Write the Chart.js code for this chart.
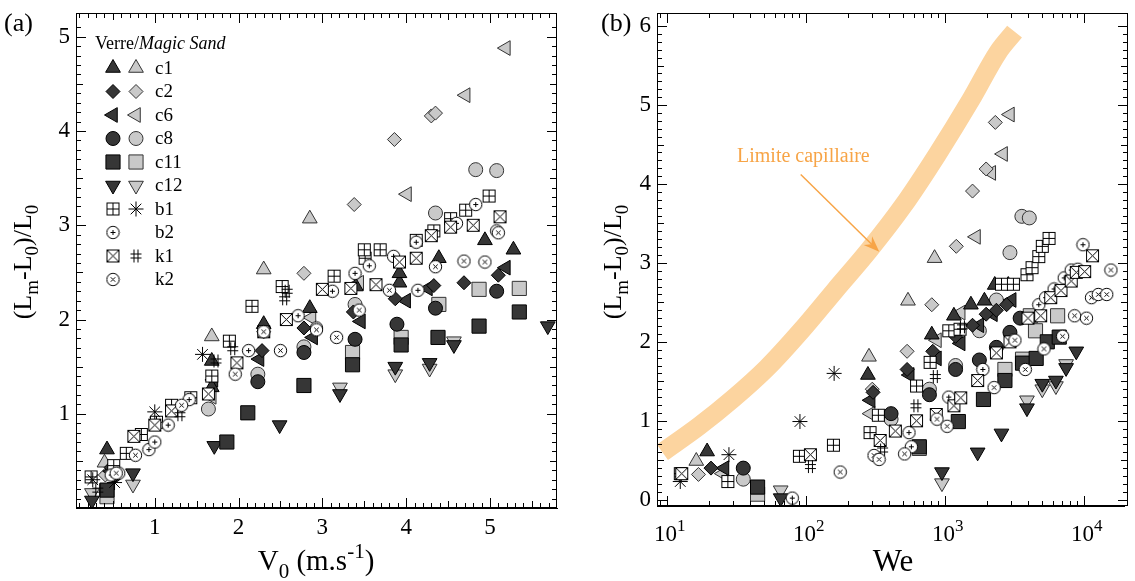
<!DOCTYPE html>
<html><head><meta charset="utf-8">
<script src="https://cdn.jsdelivr.net/npm/chart.js@4/dist/chart.umd.min.js"></script>
<style>
html,body{margin:0;padding:0;background:#fff;}
#wrap{position:relative;width:1135px;height:581px;overflow:hidden;}
#ca{position:absolute;left:0;top:0;}
#cb{position:absolute;left:590px;top:0;}
</style></head><body>
<div id="wrap"><canvas id="ca" width="590" height="581"></canvas><canvas id="cb" width="545" height="581"></canvas></div>
<script>
// ================= DATA: panel (a)  V0 (m/s) vs (Lm-L0)/L0 =================
const A_C1_V  = [[0.43,0.62],[1.68,1.56],[1.68,1.28],[2.30,1.95],[2.85,2.12],[3.40,2.35],[3.92,2.39],[3.92,2.49],[4.39,2.65],[4.94,2.84],[5.28,2.74]];
const A_C1_M  = [[0.40,0.48],[1.68,1.82],[2.30,2.53],[2.85,3.07]];
const A_C2_V  = [[0.48,0.43],[2.28,1.67],[2.78,1.91],[3.37,2.08],[3.87,2.22],[4.33,2.36],[4.69,2.39],[5.10,2.47]];
const A_C2_M  = [[0.41,0.35],[2.30,1.87],[2.78,2.49],[3.38,3.22],[3.86,3.91],[4.30,4.16],[4.35,4.19]];
const A_C6_V  = [[0.48,0.39],[1.70,1.36],[2.25,1.58],[2.89,1.81],[3.46,1.98],[4.00,2.20],[4.26,2.33],[5.19,2.55]];
const A_C6_M  = [[0.45,0.37],[1.68,1.18],[2.87,2.02],[3.44,2.39],[4.01,3.33],[4.71,4.38],[5.19,4.88]];
const A_C8_V  = [[0.52,0.35],[2.23,1.34],[2.78,1.65],[3.39,1.79],[3.89,1.95],[4.35,2.12],[5.08,2.30]];
const A_C8_M  = [[0.52,0.37],[1.64,1.05],[2.23,1.42],[2.78,1.71],[3.39,2.16],[4.35,3.13],[4.83,3.59],[5.08,3.58]];
const A_C11_V = [[0.43,0.19],[1.86,0.70],[2.11,1.01],[2.78,1.30],[3.36,1.52],[3.94,1.73],[4.38,1.81],[4.87,1.93],[5.35,2.08]];
const A_C11_M = [[0.43,0.12],[3.36,1.65],[3.94,1.81],[4.39,2.16],[4.87,2.32],[5.35,2.33]];
const A_C12_V = [[0.25,0.08],[0.74,0.37],[1.71,0.66],[2.49,0.88],[3.21,1.21],[3.87,1.50],[4.28,1.54],[4.57,1.73],[5.69,1.93]];
const A_C12_M = [[0.25,0.16],[0.74,0.25],[3.21,1.28],[3.87,1.42],[4.28,1.48],[4.57,1.77]];
const A_B1_V  = [[0.24,0.33],[0.51,0.45],[0.66,0.58],[0.84,0.78],[1.02,0.91],[1.20,1.09],[1.43,1.17],[1.68,1.40],[1.89,1.77],[2.16,2.14],[2.52,2.35],[3.14,2.46],[3.51,2.65],[3.50,2.74],[3.69,2.74],[4.12,2.84],[4.33,2.94],[4.53,3.07],[4.71,3.16],[4.99,3.31]];
const A_B1_M  = [[0.26,0.30],[0.52,0.27],[1.00,1.02],[1.57,1.63]];
const A_B2_V  = [[0.48,0.35],[0.57,0.37],[0.93,0.62],[1.00,0.70],[1.16,0.88],[1.41,1.15],[2.12,1.67],[2.71,2.04],[2.93,1.91],[3.12,2.30],[3.39,2.49],[3.56,2.57],[3.85,2.67],[4.12,2.82],[4.14,2.31],[4.60,3.02],[4.83,3.22],[5.08,2.94]];
const A_K1_V  = [[0.75,0.76],[1.00,0.88],[1.20,1.03],[1.64,1.21],[1.98,1.54],[2.30,1.87],[2.57,2.00],[3.00,2.32],[3.34,2.33],[3.64,2.37],[3.92,2.61],[4.12,2.65],[4.30,2.89],[4.53,2.98],[4.80,3.00],[5.12,3.09]];
const A_K1_M  = [[0.32,0.19],[1.30,0.99],[1.73,1.56],[1.93,1.69],[2.55,2.22],[2.58,2.30]];
const A_K2_V  = [[0.54,0.37],[0.77,0.56],[1.32,1.09],[1.96,1.42],[2.30,1.87],[2.50,1.67],[2.93,1.89],[3.17,1.81],[3.44,2.10],[3.80,2.31],[4.35,2.56],[4.69,2.62],[4.94,2.61],[5.10,2.92]];

// ================= DATA: panel (b)  We vs (Lm-L0)/L0 =================
const B_C1_V  = [[19.5,0.61],[280,1.58],[807,2.09],[1164,2.33],[1543,2.47],[1930,2.52],[2290,2.72],[2865,2.72]];
const B_C1_M  = [[16.3,0.49],[285,1.81],[544,2.52],[845,3.06]];
const B_C2_V  = [[20.8,0.40],[305,1.36],[536,1.65],[820,1.88],[1197,2.07],[1585,2.21],[1986,2.35],[2354,2.40],[2787,2.47]];
const B_C2_M  = [[16.9,0.32],[301,1.40],[536,1.88],[807,2.47],[1211,3.21],[1585,3.91],[1986,4.19],[2312,4.78]];
const B_C6_V  = [[26,0.40],[293,1.26],[560,1.58],[879,1.79],[1303,1.98],[1775,2.21],[2222,2.35],[3033,2.53]];
const B_C6_M  = [[25.3,0.33],[293,1.09],[879,2.02],[1303,2.37],[1679,3.33],[2163,4.14],[2630,4.38],[2946,4.88]];
const B_C8_V  = [[35.5,0.40],[411,1.09],[776,1.33],[1197,1.65],[1775,1.77],[2354,1.93],[2946,2.12],[3489,2.30]];
const B_C8_M  = [[35.5,0.26],[411,1.02],[776,1.40],[1197,1.70],[1775,2.14],[2354,2.53],[2946,3.13],[3590,3.59],[4060,3.57]];
const B_C11_V = [[45,0.16],[656,0.67],[1253,0.99],[1900,1.27],[2711,1.51],[3630,1.73],[4550,1.79],[5470,2.00],[6670,2.06]];
const B_C11_M = [[45,0.07],[656,0.65],[2711,1.65],[3630,1.78],[4130,2.33],[4500,2.14],[6490,2.33]];
const B_C12_V = [[66,0.02],[955,0.35],[1725,0.60],[2560,0.84],[3906,1.16],[5035,1.47],[6310,1.51],[7470,1.67],[8840,1.88]];
const B_C12_M = [[66,0.12],[955,0.21],[3906,1.26],[5035,1.40],[6310,1.44],[7470,1.72]];
const B_B1_V  = [[12.5,0.33],[27.5,0.23],[90,0.55],[158,0.69],[290,0.85],[333,1.07],[627,1.44],[785,1.74],[1069,2.14],[1288,2.16],[2560,2.73],[3120,2.73],[3906,2.85],[4250,2.94],[4750,3.08],[5035,3.21],[5630,3.31]];
const B_B1_M  = [[12.5,0.23],[28,0.57],[90.8,0.99],[160,1.60]];
const B_B2_V  = [[80,0.02],[553,0.85],[575,0.67],[1069,1.30],[1880,1.65],[3120,2.02],[4750,2.47],[5320,2.56],[6125,2.67],[7240,2.81],[8130,2.91],[9080,2.92],[9880,3.23]];
const B_K1_V  = [[12.8,0.33],[108,0.57],[343,0.75],[441,0.87],[627,1.00],[869,1.08],[1164,1.19],[1303,1.29],[1725,1.51],[2354,1.86],[2946,2.00],[3970,2.30],[4900,2.33],[5790,2.56],[6860,2.65],[8130,2.77],[8840,2.88],[10160,2.89],[11580,3.09]];
const B_K1_M  = [[108,0.42],[357,0.63],[620,1.19],[855,1.56],[1340,2.19]];
const B_K2_V  = [[177,0.35],[310,0.56],[337,0.51],[514,0.58],[879,1.02],[1040,0.93],[2265,1.42],[3200,2.02],[3800,1.65],[5180,1.91],[7050,2.07],[8600,2.33],[10470,2.30],[11380,2.56],[12730,2.60],[14650,2.60],[15700,2.91]];

// capillary limit band (We, (Lm-L0)/L0)
const CAP_WE = [9.3,17,30,52.6,92.5,162,285,500,880,1545,2420,3180];
const CAP_Y  = [0.60,0.93,1.28,1.67,2.14,2.65,3.16,3.72,4.37,5.07,5.67,5.93];

// tick labels
const A_XTICKS = [1,2,3,4,5];
const A_YTICKS = [1,2,3,4,5];
const B_YTICKS = [0,1,2,3,4,5,6];
const B_XDECADES = [1,2,3,4];

const LEGEND_ROWS = ['c1','c2','c6','c8','c11','c12','b1','b2','k1','k2'];

// ================= STYLES =================
const FONT = "'Liberation Serif','Times New Roman',serif";
Chart.defaults.font.family = FONT;
const DARK = '#363636', LIGHT = '#c9c9c9';
function makeMarker(size, draw){ const c=document.createElement('canvas'); c.width=size; c.height=size; const g=c.getContext('2d'); g.lineWidth=1; g.strokeStyle='#000'; g.fillStyle='#fff'; draw(g,size); return c; }
const M_BOXPLUS = makeMarker(15,g=>{ g.fillRect(1.5,1.5,12,12); g.strokeRect(1.5,1.5,12,12); g.beginPath(); g.moveTo(7.5,1.5); g.lineTo(7.5,13.5); g.moveTo(1.5,7.5); g.lineTo(13.5,7.5); g.stroke(); });
const M_CIRCPLUS = makeMarker(15,g=>{ g.beginPath(); g.arc(7.5,7.5,6.2,0,2*Math.PI); g.fill(); g.stroke(); g.beginPath(); g.moveTo(7.5,5); g.lineTo(7.5,10); g.moveTo(5,7.5); g.lineTo(10,7.5); g.stroke(); });
const M_BOXX = makeMarker(15,g=>{ g.fillRect(1.5,1.5,12,12); g.strokeRect(1.5,1.5,12,12); g.beginPath(); g.moveTo(1.5,1.5); g.lineTo(13.5,13.5); g.moveTo(13.5,1.5); g.lineTo(1.5,13.5); g.stroke(); });
const M_CIRCX = makeMarker(15,g=>{ g.beginPath(); g.arc(7.5,7.5,6.2,0,2*Math.PI); g.fill(); g.stroke(); g.beginPath(); g.moveTo(5.3,5.3); g.lineTo(9.7,9.7); g.moveTo(9.7,5.3); g.lineTo(5.3,9.7); g.stroke(); });
const M_HASH = makeMarker(15,g=>{ g.beginPath(); g.moveTo(5.5,1); g.lineTo(5.5,14); g.moveTo(9.5,1); g.lineTo(9.5,14); g.moveTo(2,5.5); g.lineTo(13,5.5); g.moveTo(2,9.5); g.lineTo(13,9.5); g.stroke(); });

const STY = {
  c1V:{ps:'triangle',r:8.5,rot:0,bg:DARK,bc:'#000'},   c1M:{ps:'triangle',r:8.5,rot:0,bg:LIGHT,bc:'#333'},
  c2V:{ps:'rectRot',r:7,rot:0,bg:DARK,bc:'#000'},      c2M:{ps:'rectRot',r:7,rot:0,bg:LIGHT,bc:'#333'},
  c6V:{ps:'triangle',r:8.5,rot:-90,bg:DARK,bc:'#000'}, c6M:{ps:'triangle',r:8.5,rot:-90,bg:LIGHT,bc:'#333'},
  c8V:{ps:'circle',r:7,rot:0,bg:DARK,bc:'#000'},       c8M:{ps:'circle',r:7,rot:0,bg:LIGHT,bc:'#333'},
  c11V:{ps:'rect',r:10,rot:0,bg:DARK,bc:'#000'},       c11M:{ps:'rect',r:10,rot:0,bg:LIGHT,bc:'#333'},
  c12V:{ps:'triangle',r:8.5,rot:180,bg:DARK,bc:'#000'},c12M:{ps:'triangle',r:8.5,rot:180,bg:LIGHT,bc:'#333'},
  b1V:{ps:M_BOXPLUS,r:7,rot:0,bg:'#fff',bc:'#000'},    b1M:{ps:'star',r:7.5,rot:0,bg:'#000',bc:'#000'},
  b2V:{ps:M_CIRCPLUS,r:7,rot:0,bg:'#fff',bc:'#000'},
  k1V:{ps:M_BOXX,r:7,rot:0,bg:'#fff',bc:'#000'},       k1M:{ps:M_HASH,r:7,rot:0,bg:'#000',bc:'#000'},
  k2V:{ps:M_CIRCX,r:7,rot:0,bg:'#fff',bc:'#000'}
};
function ds(arr,key){ const s=STY[key]; return {label:key, data:arr.map(p=>({x:p[0],y:p[1]})), showLine:false,
  pointStyle:s.ps, pointRadius:s.r, pointRotation:s.rot, pointBackgroundColor:s.bg, pointBorderColor:s.bc, pointBorderWidth:1}; }

// ================= helpers =================
function linTicks(min,max,step){ const out=[]; for(let i=Math.ceil(min/step-1e-9); i*step<=max+1e-9; i++) out.push(+(i*step).toFixed(6)); return out; }
function linLen(v){ if(Math.abs(v-Math.round(v))<1e-6) return 10; if(Math.abs(v*2-Math.round(v*2))<1e-6) return 7; return 5; }
function logTicks(min,max){ const out=[]; for(let d=0; d<=5; d++) for(let m=1;m<=9;m++){ const v=m*Math.pow(10,d); if(v>=min&&v<=max) out.push(v);} return out; }
function logLen(v){ const l=Math.log10(v); return Math.abs(l-Math.round(l))<1e-6?10:5; }
function segFont(s,base){ const sz = s.k ? Math.round(base*0.72) : base; return (s.i?'italic ':'')+sz+'px '+FONT; }
function drawRich(ctx, segs, x, y, base, rot, color){
  ctx.save(); ctx.translate(x,y); if(rot) ctx.rotate(rot);
  let w=0; segs.forEach(s=>{ ctx.font=segFont(s,base); w+=ctx.measureText(s.t).width; });
  let cx=-w/2; ctx.textBaseline='alphabetic'; ctx.textAlign='left'; ctx.fillStyle=color||'#000';
  segs.forEach(s=>{ ctx.font=segFont(s,base); const dy = s.k==='sub'? base*0.28 : (s.k==='sup'? -base*0.42 : 0);
    ctx.fillText(s.t, cx, dy); cx+=ctx.measureText(s.t).width; });
  ctx.restore();
}
function marker(ctx, key, x, y){
  const s=STY[key]; ctx.save(); ctx.fillStyle=s.bg; ctx.strokeStyle=s.bc; ctx.lineWidth=1;
  Chart.helpers.drawPoint(ctx, {pointStyle:s.ps, radius:s.r, rotation:s.rot, borderWidth:1}, x, y);
  ctx.restore();
}
const YTITLE = [{t:'(L'},{t:'m',k:'sub'},{t:'-L'},{t:'0',k:'sub'},{t:')/L'},{t:'0',k:'sub'}];
const scaleCommon = (extra)=>Object.assign({grid:{display:false,drawTicks:false}, border:{display:true,color:'#000',width:1},
  ticks:{color:'#000', font:{family:FONT,size:23}, maxRotation:0, autoSkip:false, padding:6}}, extra);

// ================= CHART (a) =================
const A_AREA = {left:76, top:13, right:557, bottom:508};
const A_XMIN = linTicks(0.1,5.8,0.1), A_YMIN = linTicks(0.1,5.1,0.1);
const chartA = new Chart(document.getElementById('ca'), {
  type:'scatter',
  data:{datasets:[
    ds(A_K2_V,'k2V'), ds(A_K1_M,'k1M'), ds(A_K1_V,'k1V'), ds(A_B2_V,'b2V'), ds(A_B1_M,'b1M'), ds(A_B1_V,'b1V'),
    ds(A_C1_V,'c1V'), ds(A_C2_V,'c2V'), ds(A_C6_V,'c6V'), ds(A_C8_V,'c8V'), ds(A_C11_V,'c11V'), ds(A_C12_V,'c12V'),
    ds(A_C1_M,'c1M'), ds(A_C2_M,'c2M'), ds(A_C6_M,'c6M'), ds(A_C8_M,'c8M'), ds(A_C11_M,'c11M'), ds(A_C12_M,'c12M')
  ]},
  options:{
    responsive:false, animation:false, events:[],
    layout:{padding:{left:0, top:A_AREA.top, right:590-A_AREA.right, bottom:0}},
    plugins:{legend:{display:false}, tooltip:{enabled:false}},
    scales:{
      x: scaleCommon({type:'linear', min:0.06, max:5.8,
          afterBuildTicks:s=>{ s.ticks=A_XTICKS.map(v=>({value:v})); },
          afterFit:s=>{ s.height=581-A_AREA.bottom; }}),
      y: scaleCommon({type:'linear', min:0, max:5.18,
          afterBuildTicks:s=>{ s.ticks=A_YTICKS.map(v=>({value:v})); },
          afterFit:s=>{ s.width=A_AREA.left; }})
    }
  },
  plugins:[{
    id:'decorA',
    afterDraw(chart){
      const ctx=chart.ctx, xs=chart.scales.x, ys=chart.scales.y;
      ctx.save(); ctx.fillStyle='#000';
      ctx.fillRect(76,13,481,1); ctx.fillRect(76,507,481,1); ctx.fillRect(76,13,1,495); ctx.fillRect(556,13,1,495);
      for(const v of A_XMIN){ const px=Math.round(xs.getPixelForValue(v)); const l=linLen(v); if(px>76&&px<556){ ctx.fillRect(px,508-l,1,l); ctx.fillRect(px,13,1,l);} }
      for(const v of A_YMIN){ const py=Math.round(ys.getPixelForValue(v)); const l=linLen(v); if(py>13&&py<507){ ctx.fillRect(76,py,l,1); ctx.fillRect(557-l,py,l,1);} }
      ctx.restore();
      ctx.save(); ctx.fillStyle='#000'; ctx.font='26px '+FONT; ctx.textBaseline='alphabetic'; ctx.textAlign='left';
      ctx.fillText('(a)', 4, 31);
      ctx.font='18px '+FONT; ctx.fillText('Verre/', 95, 49);
      const w=ctx.measureText('Verre/').width; ctx.font='italic 18px '+FONT; ctx.fillText('Magic Sand', 95+w, 49);
      ctx.restore();
      LEGEND_ROWS.forEach((name,i)=>{
        const y=68+i*23.5;
        if(STY[name+'V']) marker(ctx, name+'V', 113, y);
        if(STY[name+'M']) marker(ctx, name+'M', 136, y);
        ctx.save(); ctx.fillStyle='#000'; ctx.font='19px '+FONT; ctx.textBaseline='middle'; ctx.textAlign='left'; ctx.fillText(name, 155, y+1); ctx.restore();
      });
      drawRich(ctx, YTITLE, 31, 262, 26, -Math.PI/2);
      drawRich(ctx, [{t:'V'},{t:'0',k:'sub'},{t:' (m.s'},{t:'-1',k:'sup'},{t:')'}], 316, 570, 29, 0);
    }
  }]
});

// ================= CHART (b) =================
const B_AREA = {left:67, top:13, right:538, bottom:506};
const B_XMIN = logTicks(8.5,19500), B_YMIN = linTicks(0,6.0,0.1);
const chartB = new Chart(document.getElementById('cb'), {
  type:'scatter',
  data:{datasets:[
    ds(B_K2_V,'k2V'), ds(B_K1_M,'k1M'), ds(B_K1_V,'k1V'), ds(B_B2_V,'b2V'), ds(B_B1_M,'b1M'), ds(B_B1_V,'b1V'),
    ds(B_C1_V,'c1V'), ds(B_C2_V,'c2V'), ds(B_C6_V,'c6V'), ds(B_C8_V,'c8V'), ds(B_C11_V,'c11V'), ds(B_C12_V,'c12V'),
    ds(B_C1_M,'c1M'), ds(B_C2_M,'c2M'), ds(B_C6_M,'c6M'), ds(B_C8_M,'c8M'), ds(B_C11_M,'c11M'), ds(B_C12_M,'c12M'),
    {label:'cap', data:CAP_WE.map((w,i)=>({x:w,y:CAP_Y[i]})), showLine:true, borderColor:'#fcd49f', borderWidth:19,
     pointRadius:0, tension:0.4, cubicInterpolationMode:'monotone', borderCapStyle:'butt', order:10}
  ]},
  options:{
    responsive:false, animation:false, events:[],
    layout:{padding:{left:0, top:B_AREA.top, right:545-B_AREA.right, bottom:0}},
    plugins:{legend:{display:false}, tooltip:{enabled:false}},
    scales:{
      x: scaleCommon({type:'logarithmic', min:8.5, max:19500, ticks:{display:false},
          afterFit:s=>{ s.height=581-B_AREA.bottom; }}),
      y: scaleCommon({type:'linear', min:-0.08, max:6.08,
          afterBuildTicks:s=>{ s.ticks=B_YTICKS.map(v=>({value:v})); },
          afterFit:s=>{ s.width=B_AREA.left; }})
    }
  },
  plugins:[{
    id:'decorB',
    afterDraw(chart){
      const ctx=chart.ctx, x=chart.scales.x, y=chart.scales.y;
      ctx.save(); ctx.fillStyle='#000';
      ctx.fillRect(67,13,471,1); ctx.fillRect(67,505,471,1); ctx.fillRect(67,13,1,493); ctx.fillRect(537,13,1,493);
      for(const v of B_XMIN){ const px=Math.round(x.getPixelForValue(v)); const l=logLen(v); if(px>67&&px<537){ ctx.fillRect(px,506-l,1,l); ctx.fillRect(px,13,1,l);} }
      for(const v of B_YMIN){ const py=Math.round(y.getPixelForValue(v)); const l=linLen(v); if(py>13&&py<505){ ctx.fillRect(67,py,l,1); ctx.fillRect(538-l,py,l,1);} }
      ctx.restore();
      ctx.save();
      ctx.fillStyle='#f7a446'; ctx.font='20px '+FONT; ctx.textBaseline='middle'; ctx.textAlign='left';
      ctx.fillText('Limite capillaire', x.getPixelForValue(32), y.getPixelForValue(4.34));
      const x0=x.getPixelForValue(92), y0=y.getPixelForValue(4.12), x1=x.getPixelForValue(338), y1=y.getPixelForValue(3.14);
      ctx.strokeStyle='#f7a446'; ctx.lineWidth=1.5; ctx.beginPath(); ctx.moveTo(x0,y0);
      const ang=Math.atan2(y1-y0,x1-x0); ctx.lineTo(x1-10*Math.cos(ang), y1-10*Math.sin(ang)); ctx.stroke();
      ctx.beginPath(); ctx.moveTo(x1,y1);
      ctx.lineTo(x1-16*Math.cos(ang)+6*Math.sin(ang), y1-16*Math.sin(ang)-6*Math.cos(ang));
      ctx.lineTo(x1-11*Math.cos(ang), y1-11*Math.sin(ang));
      ctx.lineTo(x1-16*Math.cos(ang)-6*Math.sin(ang), y1-16*Math.sin(ang)+6*Math.cos(ang));
      ctx.closePath(); ctx.fill();
      ctx.restore();
      ctx.save(); ctx.fillStyle='#000'; ctx.font='26px '+FONT; ctx.textBaseline='alphabetic'; ctx.textAlign='left';
      ctx.fillText('(b)', 11, 31); ctx.restore();
      B_XDECADES.forEach(e=>{ drawRich(ctx, [{t:'10'},{t:String(e),k:'sup'}], x.getPixelForValue(Math.pow(10,e))+3, 541, 23, 0); });
      drawRich(ctx, YTITLE, 31, 262, 26, -Math.PI/2);
      drawRich(ctx, [{t:'We'}], 303, 571, 31, 0);
    }
  }]
});
</script></body></html>
